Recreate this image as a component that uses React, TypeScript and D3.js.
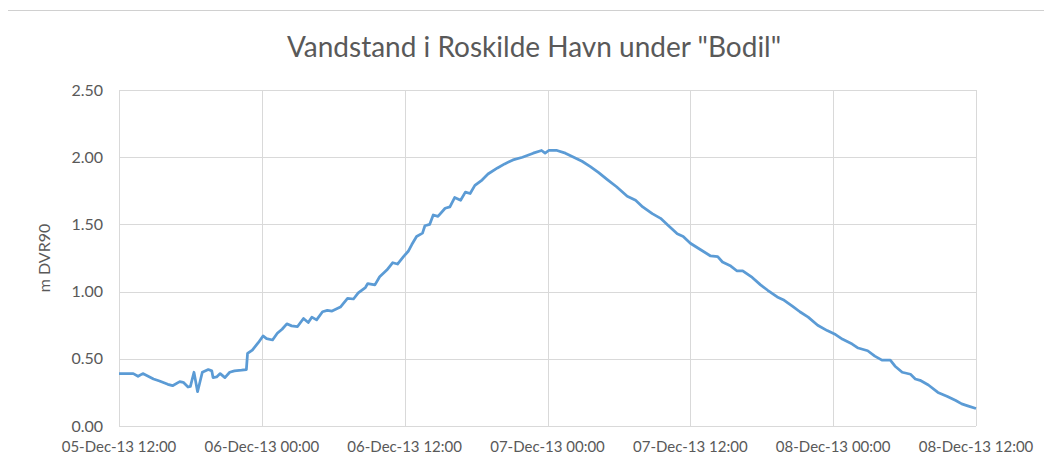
import { useEffect, useRef } from 'react';
import * as d3 from 'd3';

// hours since 05-Dec-13 12:00
const HOURS = [
    0, 1.2, 1.6, 2.0, 2.9, 3.4, 4.1, 4.5, 5.1, 5.4, 5.8, 6.0, 6.3, 6.6, 7.0, 7.5, 7.8, 7.9, 8.2, 8.5,
    8.9, 9.3, 9.7, 10.3, 10.7, 10.8, 11.2, 11.7, 12.1, 12.4, 12.9, 13.3, 13.7, 14.1, 14.5, 15.0, 15.5, 15.9, 16.2, 16.6,
    17.1, 17.5, 17.9, 18.6, 19.2, 19.7, 20.1, 20.7, 20.9, 21.5, 21.9, 22.5, 23.0, 23.4, 23.9, 24.3, 24.6, 25.0, 25.5, 25.7,
    26.1, 26.4, 26.8, 27.4, 27.8, 28.2, 28.7, 29.1, 29.5, 29.9, 30.5, 31.0, 31.8, 32.4, 33.1, 33.9, 34.8, 35.5, 35.8, 36.1,
    36.8, 37.5, 38.2, 38.9, 39.6, 40.3, 41.0, 41.8, 42.7, 43.4, 44.0, 44.8, 45.5, 46.1, 46.9, 47.4, 48.0, 48.8, 49.7, 50.3,
    50.7, 51.4, 51.9, 52.4, 53.2, 53.9, 54.5, 55.3, 55.8, 56.6, 57.2, 57.9, 58.7, 59.5, 60.2, 60.8, 61.6, 62.1, 62.9, 63.5,
    64.1, 64.8, 65.2, 65.8, 66.5, 66.9, 67.3, 68.0, 68.8, 69.6, 70.3, 70.8, 71.3, 72.0,
];
const LEVELS = [
    0.39, 0.39, 0.37, 0.39, 0.35, 0.335, 0.31, 0.30, 0.33, 0.325, 0.29, 0.295, 0.40, 0.255, 0.40, 0.42, 0.41, 0.36, 0.365, 0.39,
    0.36, 0.40, 0.41, 0.415, 0.42, 0.54, 0.565, 0.62, 0.67, 0.65, 0.64, 0.69, 0.72, 0.76, 0.745, 0.74, 0.80, 0.77, 0.81, 0.79,
    0.85, 0.86, 0.855, 0.885, 0.95, 0.945, 0.99, 1.03, 1.06, 1.05, 1.11, 1.16, 1.215, 1.205, 1.26, 1.30, 1.35, 1.41, 1.435, 1.49,
    1.50, 1.57, 1.56, 1.62, 1.63, 1.70, 1.68, 1.74, 1.73, 1.79, 1.83, 1.875, 1.92, 1.95, 1.98, 2.00, 2.03, 2.05, 2.03, 2.05,
    2.05, 2.03, 2.00, 1.97, 1.93, 1.885, 1.835, 1.78, 1.71, 1.68, 1.63, 1.58, 1.545, 1.495, 1.43, 1.41, 1.36, 1.315, 1.265, 1.26,
    1.22, 1.19, 1.155, 1.155, 1.105, 1.05, 1.01, 0.96, 0.94, 0.89, 0.85, 0.81, 0.75, 0.71, 0.68, 0.645, 0.61, 0.58, 0.56, 0.52,
    0.49, 0.49, 0.445, 0.40, 0.385, 0.35, 0.34, 0.305, 0.25, 0.22, 0.19, 0.165, 0.15, 0.13,
];
const Y_TICKS = [0, 0.5, 1, 1.5, 2, 2.5];

const START = Date.UTC(2013, 11, 5, 12);
const X_TICKS = d3.range(0, 73, 12).map(h => new Date(START + h * 3600e3));

const W = 1052, H = 470;
const M = { left: 119, right: 976, top: 90, bottom: 426 };
const FONT = 'Lato, "Open Sans", sans-serif';
const GRID = '#d9d9d9';
const TEXT = '#595959';

export default function App() {
    const ref = useRef<SVGSVGElement>(null);

    useEffect(() => {
        if (!ref.current) return;
        const svg = d3.select(ref.current);
        svg.selectAll('*').remove();

        const x = d3.scaleUtc().domain([X_TICKS[0], X_TICKS[X_TICKS.length - 1]]).range([M.left, M.right]);
        const y = d3.scaleLinear().domain([0, 2.5]).range([M.bottom, M.top]);
        const fmt = d3.utcFormat('%d-%b-%y %H:%M');

        svg.append('rect').attr('width', W).attr('height', H).attr('fill', 'white');
        svg.append('path').attr('d', `M4.5,${H}V10.5H1048`).attr('fill', 'none').attr('stroke', '#d0d0d0');

        svg.append('text').attr('x', 534).attr('y', 57).attr('text-anchor', 'middle')
            .attr('font-family', FONT).attr('font-size', 28).attr('fill', TEXT)
            .text('Vandstand i Roskilde Havn under "Bodil"');

        const g = svg.append('g');
        g.selectAll('.hg').data(Y_TICKS).join('line')
            .attr('x1', M.left).attr('x2', M.right)
            .attr('y1', d => Math.round(y(d)) + 0.5).attr('y2', d => Math.round(y(d)) + 0.5)
            .attr('stroke', GRID);
        g.selectAll('.vg').data(X_TICKS).join('line')
            .attr('y1', M.top).attr('y2', M.bottom)
            .attr('x1', d => Math.round(x(d)) + 0.5).attr('x2', d => Math.round(x(d)) + 0.5)
            .attr('stroke', GRID);

        g.selectAll('.yl').data(Y_TICKS).join('text')
            .attr('x', 103).attr('y', d => y(d)).attr('dy', '0.35em').attr('text-anchor', 'end')
            .attr('font-family', FONT).attr('font-size', 16).attr('fill', TEXT)
            .text(d => d.toFixed(2));
        g.selectAll('.xl').data(X_TICKS).join('text')
            .attr('x', d => x(d)).attr('y', 452).attr('text-anchor', 'middle')
            .attr('font-family', FONT).attr('font-size', 15).attr('fill', TEXT)
            .text(d => fmt(d));

        svg.append('text').attr('transform', `translate(50,${(M.top + M.bottom) / 2}) rotate(-90)`)
            .attr('text-anchor', 'middle').attr('font-family', FONT).attr('font-size', 16).attr('fill', TEXT)
            .text('m DVR90');

        const pts = HOURS.map((h, i) => [new Date(START + h * 3600e3), LEVELS[i]] as [Date, number]);
        const line = d3.line<[Date, number]>().x(d => x(d[0])).y(d => y(d[1]));
        svg.append('path').datum(pts).attr('d', line).attr('fill', 'none')
            .attr('stroke', '#5b9bd5').attr('stroke-width', 2.75).attr('stroke-linejoin', 'round');
    }, []);

    return <svg ref={ref} width={W} height={H} style={{ display: 'block', margin: -8 }} />;
}
